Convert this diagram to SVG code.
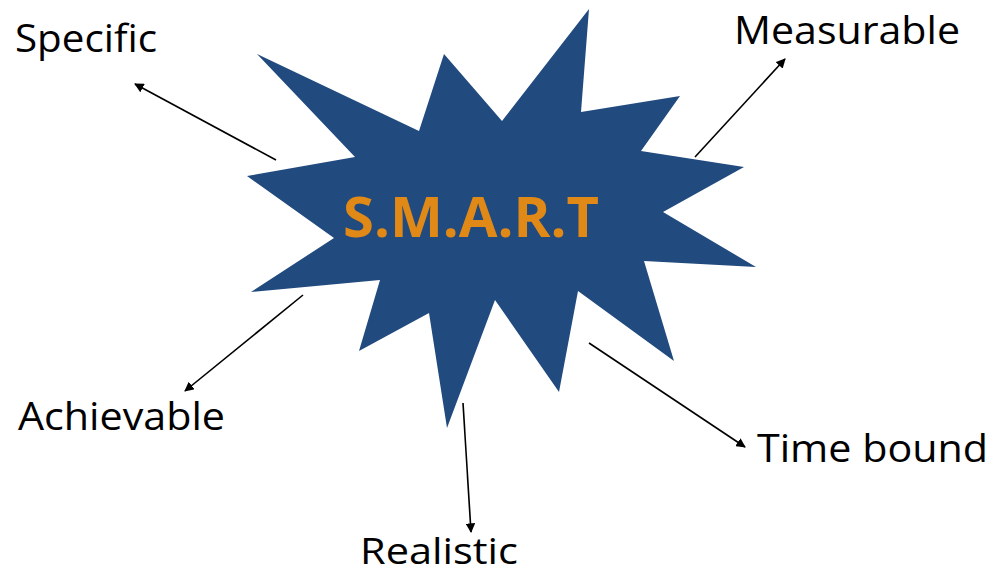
<svg xmlns="http://www.w3.org/2000/svg" width="993" height="574" viewBox="0 0 993 574">
<style>
.lbl{font-family:"Open Sans","Liberation Sans",sans-serif;font-size:39px;fill:#000}
.title{font-family:"Open Sans","Liberation Sans",sans-serif;font-size:56px;font-weight:bold;fill:#E08916}
.conn{stroke:#000;stroke-width:1.6;fill:none;marker-end:url(#ah)}
</style>
<defs>
<marker id="ah" viewBox="0 0 10 10" refX="9" refY="5" markerWidth="6" markerHeight="6" markerUnits="strokeWidth" orient="auto">
<path d="M0,0 L10,5 L0,10 z" fill="#000"/>
</marker>
</defs>
<rect width="993" height="574" fill="#fff"/>
<g id="star">
<polygon fill="#214A7E" points="257,54 355,157 247,176 334,238 251,292 380,280 359,351 429,313 447,428 495,300 559,392 578,291 674,361 644,261 756,267 663,212 744,167 641,151 680,96 581,112 589,9 502,121 444,54 419,131"/>
<text class="title" x="343" y="237" textLength="256" lengthAdjust="spacingAndGlyphs">S.M.A.R.T</text>
</g>
<g id="connectors">
<line class="conn" x1="276" y1="160" x2="135" y2="84"/>
<line class="conn" x1="695" y1="157" x2="785" y2="59"/>
<line class="conn" x1="303" y1="295" x2="185" y2="391"/>
<line class="conn" x1="463" y1="403" x2="471" y2="532"/>
<line class="conn" x1="589" y1="343" x2="745" y2="447"/>
</g>
<g id="specific"><text class="lbl" x="15" y="52" textLength="142" lengthAdjust="spacingAndGlyphs">Specific</text></g>
<g id="measurable"><text class="lbl" x="734" y="44" textLength="226" lengthAdjust="spacingAndGlyphs">Measurable</text></g>
<g id="achievable"><text class="lbl" x="18" y="430" textLength="207" lengthAdjust="spacingAndGlyphs">Achievable</text></g>
<g id="timebound"><text class="lbl" x="757" y="462" textLength="231" lengthAdjust="spacingAndGlyphs">Time bound</text></g>
<g id="realistic"><text class="lbl" x="360" y="564" style="font-size:37px" textLength="158" lengthAdjust="spacingAndGlyphs">Realistic</text></g>
</svg>
